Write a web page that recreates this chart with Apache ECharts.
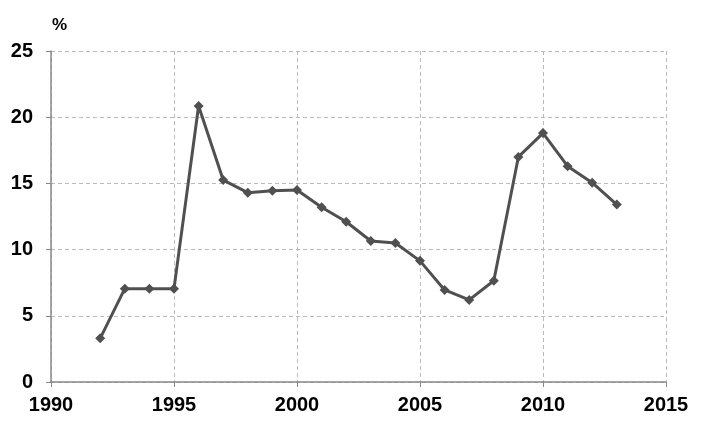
<!DOCTYPE html>
<html><head><meta charset="utf-8">
<script src="https://cdn.jsdelivr.net/npm/echarts@6/dist/echarts.min.js"></script>
<style>html,body{margin:0;padding:0;background:#fff}#c{width:712px;height:432px}</style>
</head><body><div id="c"></div>
<script>
const years = [1992,1993,1994,1995,1996,1997,1998,1999,2000,2001,2002,2003,2004,2005,2006,2007,2008,2009,2010,2011,2012,2013];
const values = [3.3,7.05,7.05,7.05,20.85,15.25,14.3,14.45,14.5,13.2,12.1,10.65,10.5,9.15,6.95,6.2,7.65,17.0,18.8,16.3,15.05,13.4];
const xTicks = [1990,1995,2000,2005,2010,2015];
const yTicks = [0,5,10,15,20,25];
const unitLabel = '%';

const chart = echarts.init(document.getElementById('c'));
const font = 'Liberation Sans, Arial, sans-serif';
chart.setOption({
  animation:false,
  backgroundColor:'#fff',
  title:{text:unitLabel,left:47,top:12,textStyle:{fontFamily:font,fontSize:17,fontWeight:'bold',color:'#000'}},
  grid:{left:51,right:46,top:51,bottom:50},
  xAxis:{type:'value',min:xTicks[0],max:xTicks[xTicks.length-1],interval:5,
    axisLine:{lineStyle:{color:'#888',width:1.5}},
    axisTick:{show:true,length:5,lineStyle:{color:'#888'}},
    axisLabel:{fontFamily:font,fontSize:20,fontWeight:'bold',color:'#000',margin:13,formatter:v=>String(v)},
    splitLine:{show:true,lineStyle:{type:[4,3],color:'#bbb',width:1}}},
  yAxis:{type:'value',min:yTicks[0],max:yTicks[yTicks.length-1],interval:5,
    axisLine:{show:true,lineStyle:{color:'#888',width:1.5}},
    axisTick:{show:true,length:5,lineStyle:{color:'#888'}},
    axisLabel:{fontFamily:font,fontSize:20,fontWeight:'bold',color:'#000',margin:18,formatter:v=>String(v)},
    splitLine:{show:true,lineStyle:{type:[4,3],color:'#bbb',width:1}}},
  series:[{type:'line',data:years.map((y,i)=>[y,values[i]]),
    lineStyle:{color:'#505050',width:3},
    itemStyle:{color:'#505050'},
    symbol:'diamond',symbolSize:10,showSymbol:true}]
});
</script></body></html>
